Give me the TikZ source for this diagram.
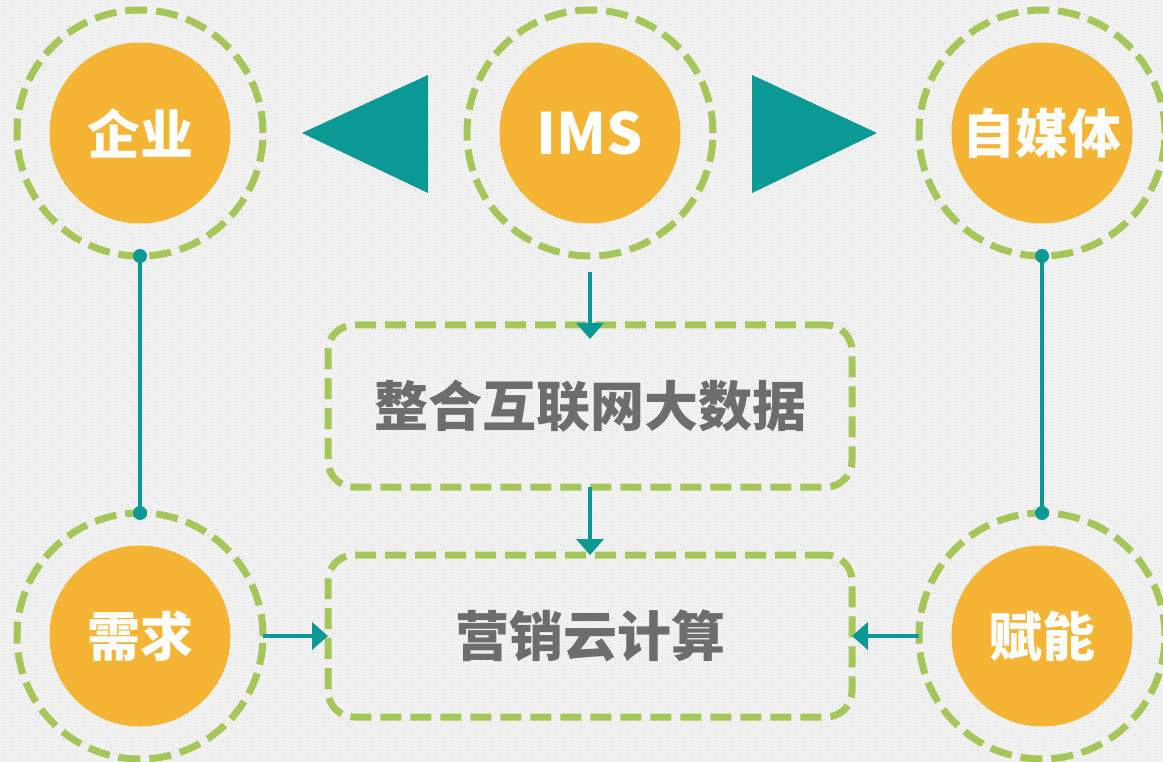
\documentclass[tikz,border=0pt]{standalone}
\usepackage{fontspec}
\newfontfamily\cjk{Noto Sans CJK SC}
\usetikzlibrary{arrows.meta,patterns}
\definecolor{orng}{HTML}{F6B434}
\definecolor{lime}{HTML}{A5C75A}
\definecolor{tealc}{HTML}{0A9994}
\definecolor{txtgray}{HTML}{6D6D6D}
\definecolor{bggray}{HTML}{EBEBEB}
\tikzset{
  ring/.style={circle,draw=lime,line width=7pt,dash pattern=on 22pt off 9pt,
    minimum size=246pt,inner sep=0pt,outer sep=0pt},
  ball/.style={circle,fill=orng,minimum size=181pt,inner sep=0pt,text=white,
    font=\cjk\bfseries\fontsize{53}{53}\selectfont},
  box/.style={rectangle,rounded corners=26pt,draw=lime,line width=7pt,
    dash pattern=on 21pt off 9pt,minimum width=524pt,minimum height=162pt,
    inner sep=0pt,outer sep=0pt,text=txtgray,
    font=\cjk\bfseries\fontsize{54}{54}\selectfont},
  link/.style={tealc,line width=4pt},
  arr/.style={link,-{Triangle[width=27pt,length=16pt]}}
}
\begin{document}
\begin{tikzpicture}[x=1pt,y=-1pt]
   \useasboundingbox (0,0) rectangle (1163,762);
   \fill[bggray] (0,0) rectangle (1163,762);
   \fill[pattern=north east lines,pattern color=white] (0,0) rectangle (1163,762);

   \node[ring] (qiye) at (140,133) {};
   \node[ball] (qiyet) at (qiye) {企业};
   \node[ring] (ims) at (590,133) {};
   \node[ball,font=\cjk\bfseries\fontsize{57}{57}\selectfont] (imst) at (ims) {IMS};
   \node[ring] (zmt) at (1042,133) {};
   \node[ball] (zmtt) at (zmt) {自媒体};
   \node[ring] (xuqiu) at (140,636) {};
   \node[ball] (xuqiut) at (xuqiu) {需求};
   \node[ring] (funeng) at (1042,636) {};
   \node[ball] (funengt) at (funeng) {赋能};

   \node[box] (data) at (590,406) {整合互联网大数据};
   \node[box] (yingxiao) at (590,636) {营销云计算};

   \fill[tealc] (302,133) -- (428,75) -- (428,193) -- cycle;
   \fill[tealc] (877,133) -- (752,75) -- (752,193) -- cycle;

   \draw[link] (qiye.south) -- (xuqiu.north);
   \fill[tealc] (qiye.south) circle (7) (xuqiu.north) circle (7);
   \draw[link] (zmt.south) -- (funeng.north);
   \fill[tealc] (zmt.south) circle (7) (funeng.north) circle (7);

   \draw[arr] ([yshift=-16pt]ims.south) -- ([yshift=-14pt]data.north);
   \draw[arr] (data.south) -- (yingxiao.north);
   \draw[arr] (xuqiu.east) -- (yingxiao.west);
   \draw[arr] (funeng.west) -- (yingxiao.east);
\end{tikzpicture}
\end{document}
